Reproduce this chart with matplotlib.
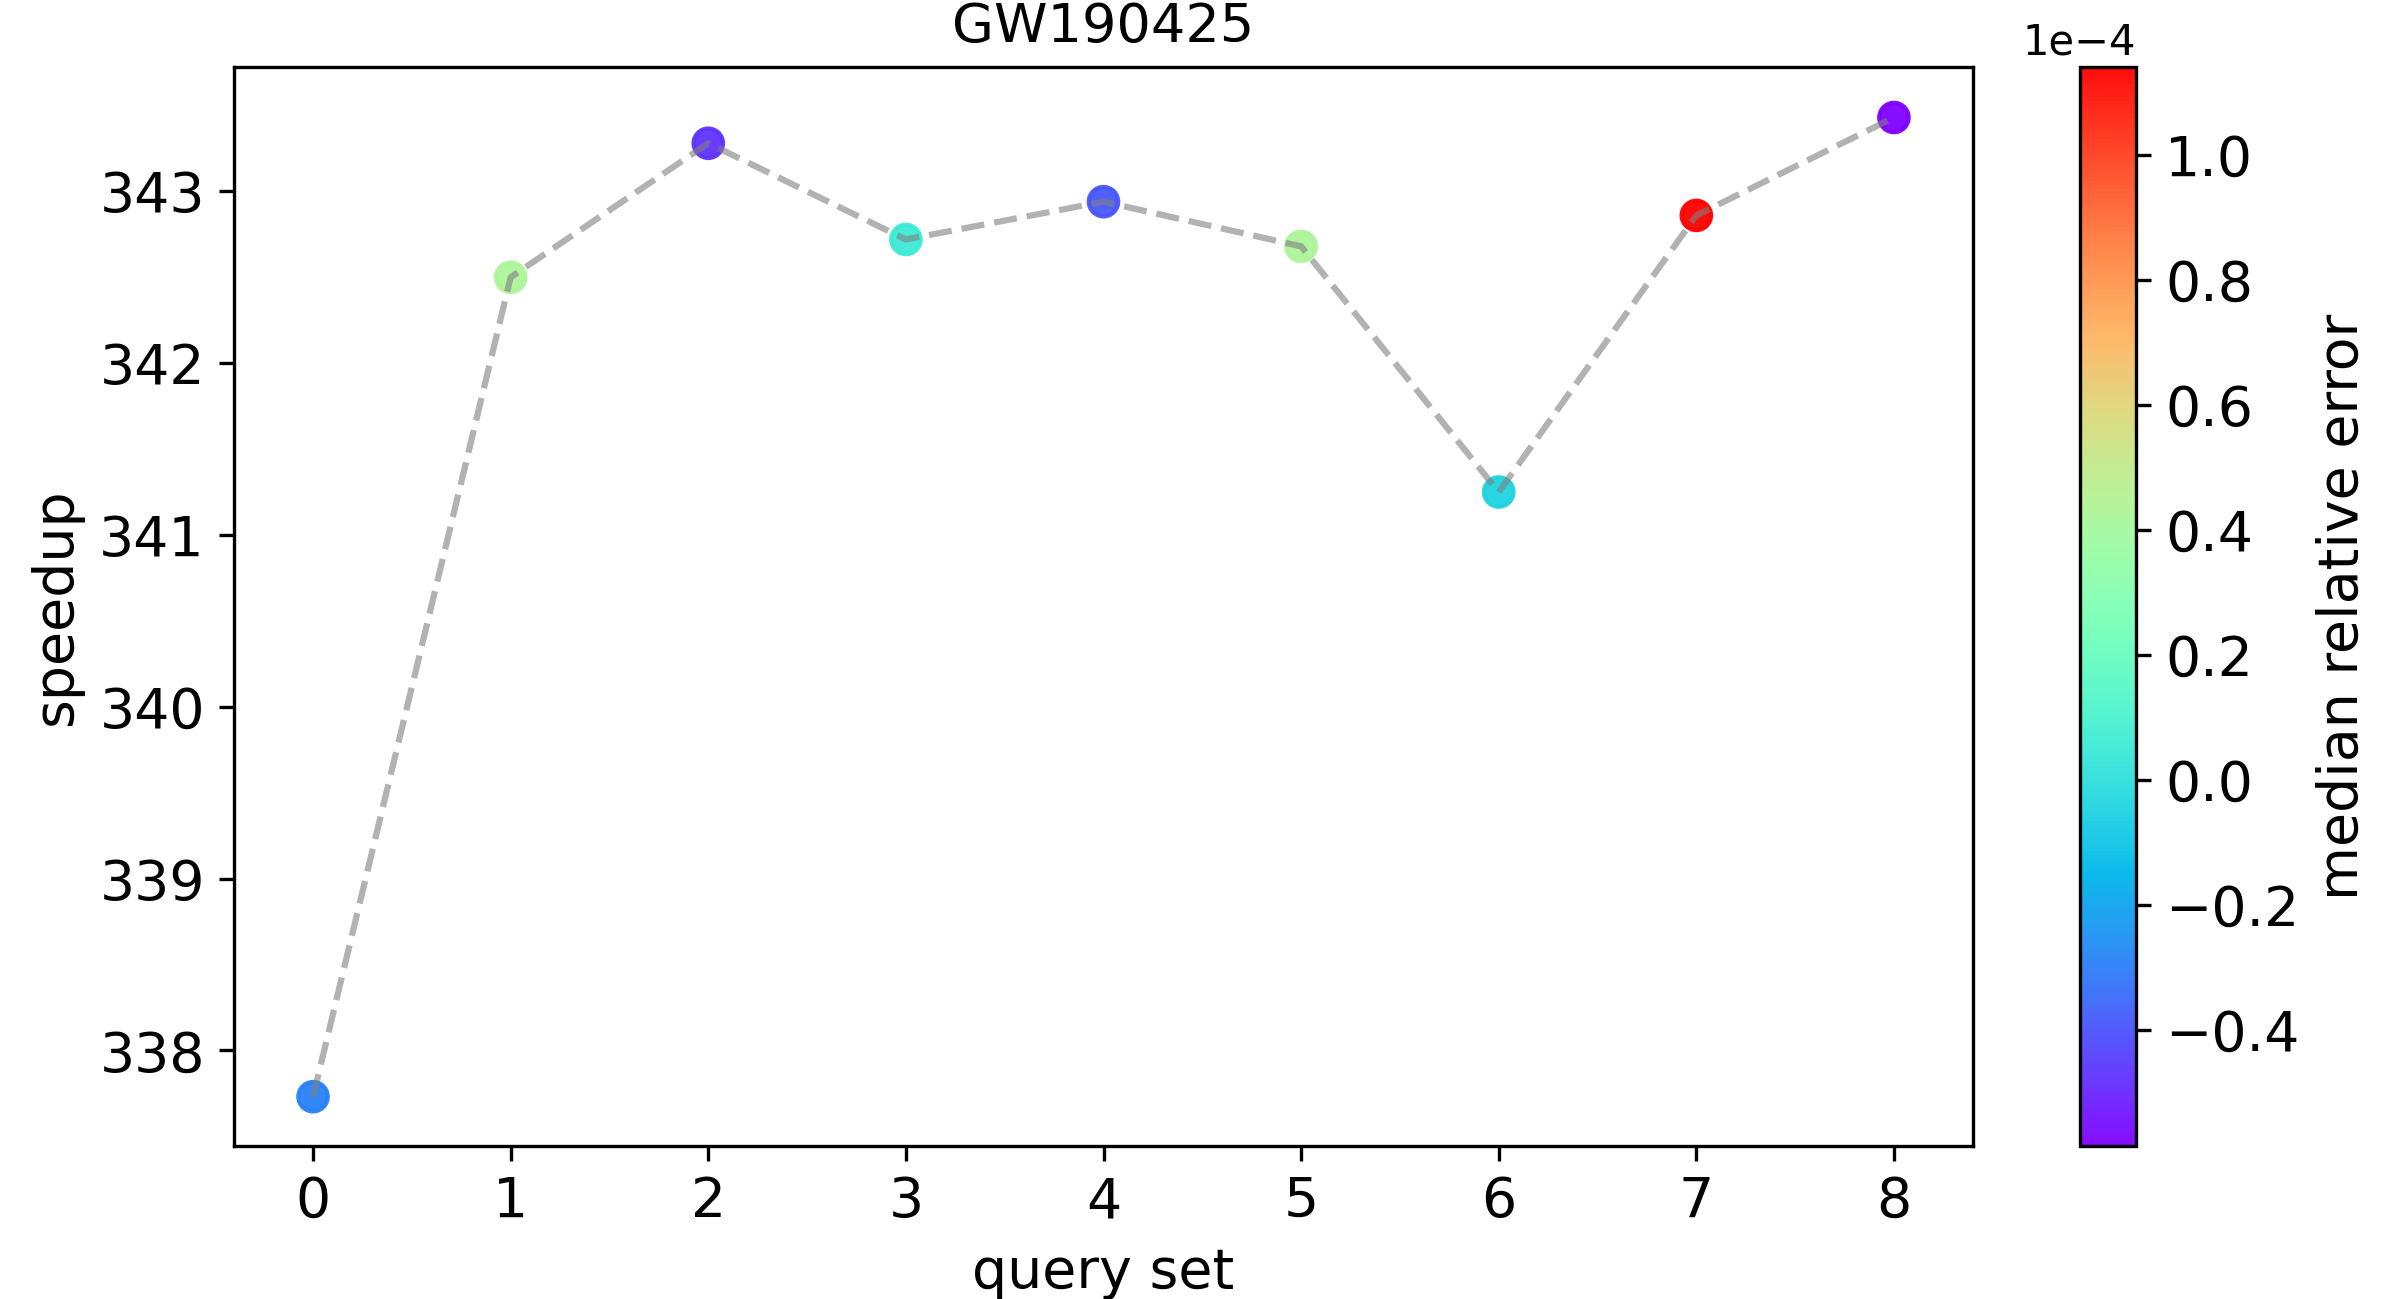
import matplotlib
matplotlib.use("Agg")
import matplotlib.pyplot as plt
import numpy as np

query_set = [0, 1, 2, 3, 4, 5, 6, 7, 8]
speedup = [337.73, 342.50, 343.28, 342.72, 342.94, 342.68, 341.25, 342.86, 343.43]
rel_error = [-0.29e-4, 0.43e-4, -0.475e-4, 0.05e-4, -0.39e-4, 0.43e-4, -0.05e-4, 1.14e-4, -0.585e-4]

fig = plt.figure(figsize=(2381 / 300, 1299 / 300), dpi=300)
ax = fig.add_axes([234 / 2381, 1 - 1146 / 1299, (1973 - 234) / 2381, (1146 - 67) / 1299])
cax = fig.add_axes([2080 / 2381, 1 - 1146 / 1299, (2136 - 2080) / 2381, (1146 - 67) / 1299])

sc = ax.scatter(query_set, speedup, c=rel_error, cmap='rainbow', s=50, alpha=0.95, zorder=2)
ax.plot(query_set, speedup, '--', color='gray', alpha=0.6, lw=1.5, zorder=3)

ax.set_ylim(337.443, 343.724)
ax.set_xlim(-0.4, 8.4)
ax.set_xticks(query_set)
ax.tick_params(labelsize=13.3)
ax.set_xlabel('query set', fontsize=13.3)
ax.set_ylabel('speedup', fontsize=13.3)
ax.set_title('GW190425', fontsize=13)

cb = fig.colorbar(sc, cax=cax)
cb.formatter.set_powerlimits((0, 0))
cb.update_ticks()
cb.set_label('median relative error', fontsize=13.3)
cb.ax.tick_params(labelsize=13.3)
cb.ax.yaxis.get_offset_text().set_fontsize(10)

fig.savefig('out.png', dpi=300)
